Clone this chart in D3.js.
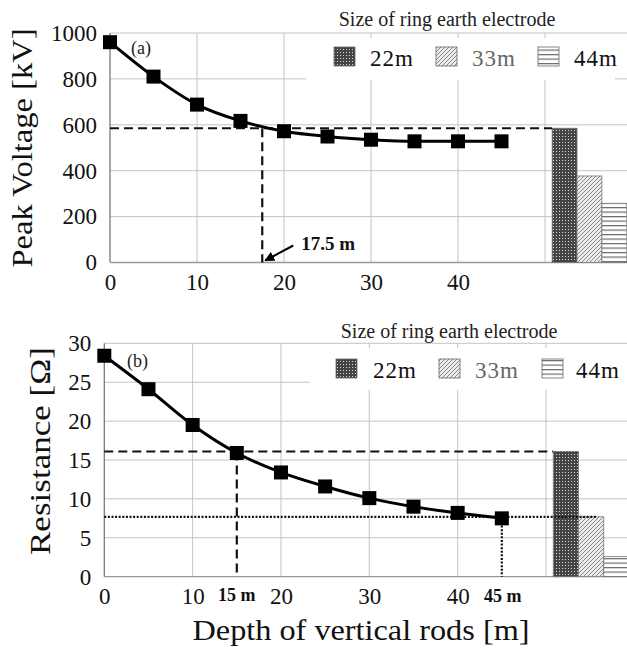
<!DOCTYPE html>
<html>
<head>
<meta charset="utf-8">
<script src="https://cdn.jsdelivr.net/npm/d3@7"></script>
<style>
  html, body { margin: 0; padding: 0; background: #fff; }
  svg { display: block; }
  svg text { font-family: "Liberation Serif", "Times New Roman", serif !important; }
</style>
</head>
<body>
<svg id="chart" width="627" height="650"></svg>
<script>
// ---- data ----
const depth = [0, 5, 10, 15, 20, 25, 30, 35, 40, 45];
const peakVoltage = [960, 810, 688, 617, 572, 549, 535, 528, 528, 528];
const resistance = [28.4, 24.1, 19.5, 15.9, 13.4, 11.6, 10.1, 9.0, 8.2, 7.5];
const ringSizes = ["22m", "33m", "44m"];
const ringVoltage = [585, 377, 258];
const ringResistance = [16.1, 7.7, 2.6];
const voltageTicks = [0, 200, 400, 600, 800, 1000];
const resistanceTicks = [0, 5, 10, 15, 20, 25, 30];
const depthTicks = [0, 10, 20, 30, 40];
const gridDepths = [10, 20, 30, 40, 50];
const legendTitle = "Size of ring earth electrode";

const SERIF = '"Liberation Serif", "Times New Roman", serif';
const svg = d3.select("#chart");
const defs = svg.append("defs");

// patterns
const p1 = defs.append("pattern").attr("id", "pat22").attr("patternUnits", "userSpaceOnUse")
  .attr("width", 3).attr("height", 3);
p1.append("rect").attr("width", 3).attr("height", 3).attr("fill", "#444");
p1.append("rect").attr("x", 1).attr("y", 1).attr("width", 1).attr("height", 1).attr("fill", "#d8d8d8");

const p2 = defs.append("pattern").attr("id", "pat33").attr("patternUnits", "userSpaceOnUse")
  .attr("width", 4).attr("height", 4);
p2.append("rect").attr("width", 4).attr("height", 4).attr("fill", "#ececec");
p2.append("path").attr("d", "M-1,1 L1,-1 M0,4 L4,0 M3,5 L5,3").attr("stroke", "#8a8a8a").attr("stroke-width", 1);

const p3 = defs.append("pattern").attr("id", "pat44").attr("patternUnits", "userSpaceOnUse")
  .attr("width", 4).attr("height", 4.5);
p3.append("rect").attr("width", 4).attr("height", 4.5).attr("fill", "#fff");
p3.append("rect").attr("y", 0).attr("width", 4).attr("height", 1.2).attr("fill", "#6a6a6a");

const patFill = { "22m": "url(#pat22)", "33m": "url(#pat33)", "44m": "url(#pat44)" };
const legendTextColor = { "22m": "#111", "33m": "#666", "44m": "#111" };

defs.append("marker").attr("id", "arrow").attr("viewBox", "0 0 10 10")
  .attr("refX", 9).attr("refY", 5).attr("markerWidth", 5).attr("markerHeight", 5)
  .attr("markerUnits", "strokeWidth").attr("orient", "auto")
  .append("path").attr("d", "M0,0 L10,5 L0,10 Z").attr("fill", "#000");

function drawPanel(cfg) {
  const g = svg.append("g");
  const x = cfg.x, y = cfg.y;
  const xR = cfg.right;
  const y0 = y.range()[0], yTop = y.range()[1];

  // grid
  g.selectAll(".hg").data(cfg.yTicks.filter(d => d > 0)).join("line")
    .attr("x1", x(0)).attr("x2", xR).attr("y1", d => y(d)).attr("y2", d => y(d))
    .attr("stroke", "#c4c4c4").attr("stroke-width", 1);
  g.selectAll(".vg").data(gridDepths).join("line")
    .attr("x1", d => x(d)).attr("x2", d => x(d)).attr("y1", y0).attr("y2", yTop)
    .attr("stroke", "#c4c4c4").attr("stroke-width", 1);
  // axes lines
  g.append("line").attr("x1", x(0)).attr("x2", x(0)).attr("y1", y0).attr("y2", yTop)
    .attr("stroke", "#777").attr("stroke-width", 1.3);
  g.append("line").attr("x1", x(0)).attr("x2", xR).attr("y1", y0).attr("y2", y0)
    .attr("stroke", "#999").attr("stroke-width", 1.3);

  // legend box (covers grid)
  g.append("rect").attr("x", cfg.legendBox[0]).attr("y", cfg.legendBox[1])
    .attr("width", cfg.legendBox[2]).attr("height", cfg.legendBox[3]).attr("fill", "#fff");

  // tick labels via axes
  const ay = d3.axisLeft(y).tickValues(cfg.yTicks).tickFormat(d3.format("d")).tickSize(0).tickPadding(cfg.yPad);
  const gy = g.append("g").attr("transform", `translate(${x(0)},0)`).call(ay);
  gy.attr("font-family", SERIF).attr("font-size", 23);
  gy.select(".domain").remove();
  gy.selectAll("text").attr("fill", "#111").style("font-family", SERIF).style("font-size", "23px");
  const ax = d3.axisBottom(x).tickValues(depthTicks).tickFormat(d3.format("d")).tickSize(0).tickPadding(cfg.xPad);
  const gx = g.append("g").attr("transform", `translate(0,${y0})`).call(ax);
  gx.attr("font-family", SERIF).attr("font-size", 23);
  gx.select(".domain").remove();
  gx.selectAll("text").attr("fill", "#111").style("font-family", SERIF).style("font-size", "23px");

  // bars
  const band = d3.scaleBand().domain(ringSizes).range([x(50.82), x(59.4)]).padding(0);
  g.selectAll(".bar").data(ringSizes).join("rect")
    .attr("x", d => band(d)).attr("width", band.bandwidth())
    .attr("y", (d, i) => y(cfg.ring[i])).attr("height", (d, i) => y0 - y(cfg.ring[i]))
    .attr("fill", d => patFill[d]).attr("stroke", "#777").attr("stroke-width", 0.8);

  // reference lines
  cfg.refs(g, band);

  // curve
  const line = d3.line().x((d, i) => x(depth[i])).y(d => y(d)).curve(d3.curveMonotoneX);
  g.append("path").datum(cfg.values).attr("d", line).attr("fill", "none")
    .attr("stroke", "#000").attr("stroke-width", 3);
  const ms = 14;
  g.selectAll(".pt").data(cfg.values).join("rect")
    .attr("x", (d, i) => x(depth[i]) - ms / 2).attr("y", d => y(d) - ms / 2)
    .attr("width", ms).attr("height", ms).attr("fill", "#000");

  // panel label
  g.append("text").attr("x", cfg.label[1]).attr("y", cfg.label[2]).attr("font-size", 18)
    .attr("fill", "#222").text(cfg.label[0]);

  // legend
  g.append("text").attr("x", cfg.legendTitlePos[0]).attr("y", cfg.legendTitlePos[1])
    .attr("text-anchor", "middle").attr("font-size", 20).attr("fill", "#222").text(legendTitle);
  cfg.legendItems.forEach((it, i) => {
    const k = ringSizes[i];
    g.append("rect").attr("x", it[0]).attr("y", cfg.legendY - 19).attr("width", 21).attr("height", 19)
      .attr("fill", patFill[k]).attr("stroke", "#666").attr("stroke-width", 0.8);
    g.append("text").attr("x", it[1]).attr("y", cfg.legendY).attr("font-size", 23)
      .attr("fill", legendTextColor[k]).attr("textLength", 43).text(k);
  });

  // y title
  g.append("text").attr("transform", `translate(${cfg.yTitle[1]},${cfg.yTitle[2]}) rotate(-90)`)
    .attr("text-anchor", "middle").attr("font-size", 30).attr("fill", "#111")
    .attr("textLength", cfg.yTitle[3]).attr("lengthAdjust", "spacingAndGlyphs")
    .text(cfg.yTitle[0]);
  return g;
}

// ---- top panel ----
const xA = d3.scaleLinear().domain([0, 50]).range([110, 545]);
const yA = d3.scaleLinear().domain([0, 1000]).range([262.5, 33]);
drawPanel({
  x: xA, y: yA, right: 627, yTicks: voltageTicks, values: peakVoltage, ring: ringVoltage,
  yPad: 13, xPad: 11,
  legendBox: [306, 38, 309, 42], legendTitlePos: [447, 26], legendY: 66,
  legendItems: [[334, 370], [436, 472], [538, 574]],
  label: ["(a)", 131, 54],
  yTitle: ["Peak Voltage [kV]", 32, 148, 239],
  refs: (g, band) => {
    const v = ringVoltage[0];
    g.append("line").attr("x1", xA(0)).attr("x2", band("22m")).attr("y1", yA(v)).attr("y2", yA(v))
      .attr("stroke", "#111").attr("stroke-width", 2).attr("stroke-dasharray", "9,5");
    g.append("line").attr("x1", xA(17.5)).attr("x2", xA(17.5)).attr("y1", yA(v)).attr("y2", yA(0))
      .attr("stroke", "#111").attr("stroke-width", 2.2).attr("stroke-dasharray", "9,5");
    const ax0 = xA(17.5), ay0 = yA(0);
    g.append("line").attr("x1", ax0 + 31).attr("y1", ay0 - 17).attr("x2", ax0 + 3).attr("y2", ay0 - 2)
      .attr("stroke", "#000").attr("stroke-width", 2).attr("marker-end", "url(#arrow)");
    g.append("text").attr("x", ax0 + 39).attr("y", ay0 - 13).attr("font-size", 19)
      .attr("font-weight", "bold").attr("fill", "#111").text("17.5 m");
  }
});

// ---- bottom panel ----
const xB = d3.scaleLinear().domain([0, 50]).range([104.3, 546]);
const yB = d3.scaleLinear().domain([0, 30]).range([576.7, 343.3]);
drawPanel({
  x: xB, y: yB, right: 627, yTicks: resistanceTicks, values: resistance, ring: ringResistance,
  yPad: 13, xPad: 11,
  legendBox: [310, 348, 317, 42], legendTitlePos: [449, 338], legendY: 378,
  legendItems: [[336, 373], [439, 475], [542, 576]],
  label: ["(b)", 127, 367],
  yTitle: ["Resistance [Ω]", 50, 451, 208],
  refs: (g, band) => {
    const v = ringResistance[0];
    g.append("line").attr("x1", xB(0)).attr("x2", band("22m")).attr("y1", yB(v)).attr("y2", yB(v))
      .attr("stroke", "#111").attr("stroke-width", 2).attr("stroke-dasharray", "9,5");
    g.append("line").attr("x1", xB(15)).attr("x2", xB(15)).attr("y1", yB(v)).attr("y2", yB(0))
      .attr("stroke", "#111").attr("stroke-width", 2.2).attr("stroke-dasharray", "9,5");
    const w = ringResistance[1];
    g.append("line").attr("x1", xB(0)).attr("x2", band("33m") + band.bandwidth() * 0.75)
      .attr("y1", yB(w)).attr("y2", yB(w))
      .attr("stroke", "#111").attr("stroke-width", 2.2).attr("stroke-dasharray", "2,1.6");
    g.append("line").attr("x1", xB(45)).attr("x2", xB(45)).attr("y1", yB(resistance[9])).attr("y2", yB(0))
      .attr("stroke", "#111").attr("stroke-width", 2.2).attr("stroke-dasharray", "2,1.6");
    g.append("text").attr("x", xB(15)).attr("y", 601).attr("text-anchor", "middle")
      .attr("font-size", 18).attr("font-weight", "bold").attr("fill", "#111").text("15 m");
    g.append("text").attr("x", xB(45) + 1).attr("y", 602).attr("text-anchor", "middle")
      .attr("font-size", 18).attr("font-weight", "bold").attr("fill", "#111").text("45 m");
  }
});

// x title
svg.append("text").attr("x", 361).attr("y", 640).attr("text-anchor", "middle")
  .attr("font-size", 30).attr("fill", "#111").attr("textLength", 337)
  .attr("lengthAdjust", "spacingAndGlyphs").text("Depth of vertical rods [m]");
</script>
</body>
</html>
